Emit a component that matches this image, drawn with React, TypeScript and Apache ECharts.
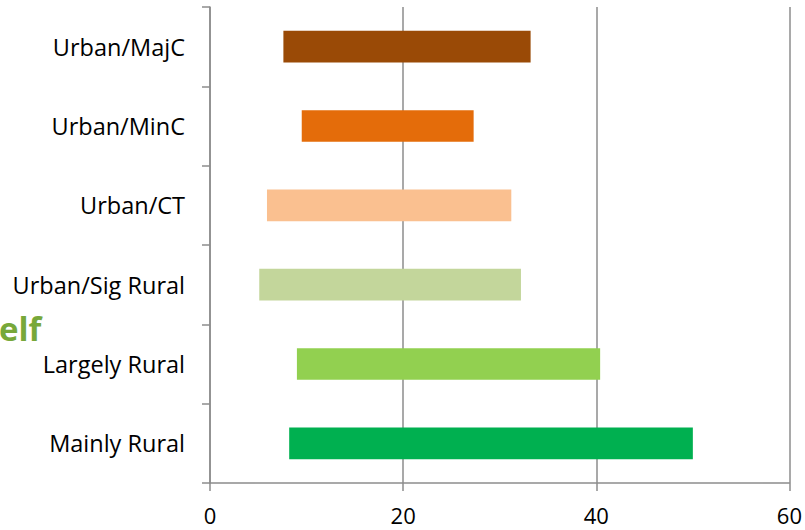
import React, { useEffect, useRef } from "react";
import * as echarts from "echarts";

// Categories listed top to bottom
const categories = [
  "Urban/MajC",
  "Urban/MinC",
  "Urban/CT",
  "Urban/Sig Rural",
  "Largely Rural",
  "Mainly Rural",
];
// Start and end of each range
const rangeStart = [7.6, 9.5, 5.9, 5.1, 9.0, 8.2];
const rangeEnd = [33.2, 27.3, 31.2, 32.2, 40.4, 50.0];
const barColors = ["#9A4A06", "#E46C0A", "#FAC090", "#C3D69B", "#92D050", "#00B050"];
const xTicks = { min: 0, max: 60, interval: 20 };

const FONT = "'Open Sans', 'Noto Sans', sans-serif";
const GRAY = "#8c8c8c";

export default function App() {
  const ref = useRef<HTMLDivElement>(null);

  useEffect(() => {
    if (!ref.current) return;
    const chart = echarts.init(ref.current, null, { renderer: "svg" });
    chart.setOption({
      animation: false,
      backgroundColor: "#ffffff",
      grid: { left: 210, right: 15, top: 7, bottom: 47, containLabel: false },
      xAxis: {
        type: "value",
        min: xTicks.min,
        max: xTicks.max,
        interval: xTicks.interval,
        axisLine: { show: true, lineStyle: { color: GRAY, width: 1.5 } },
        axisTick: { show: true, length: 8, lineStyle: { color: GRAY, width: 1.5 } },
        splitLine: { show: true, lineStyle: { color: GRAY, width: 1.5 } },
        axisLabel: { color: "#000", fontSize: 22, fontFamily: FONT, margin: 21 },
      },
      yAxis: {
        type: "category",
        inverse: true,
        data: categories,
        axisLine: { show: true, lineStyle: { color: GRAY, width: 1.5 } },
        axisTick: { show: true, length: 8, lineStyle: { color: GRAY, width: 1.5 } },
        axisLabel: { color: "#000", fontSize: 23.5, fontFamily: FONT, margin: 25 },
      },
      series: [
        {
          type: "bar",
          stack: "range",
          silent: true,
          itemStyle: { color: "transparent" },
          data: rangeStart,
          barWidth: "40%",
        },
        {
          type: "bar",
          stack: "range",
          barWidth: "40%",
          data: rangeEnd.map((e, i) => ({
            value: +(e - rangeStart[i]).toFixed(2),
            itemStyle: { color: barColors[i] },
          })),
        },
      ],
      graphic: [
        {
          type: "text",
          x: -1,
          y: 345,
          style: {
            text: "elf",
            fill: "#77A83A",
            font: `bold 33px ${FONT}`,
            textAlign: "left",
            textVerticalAlign: "bottom",
          },
        },
      ],
    });
    return () => chart.dispose();
  }, []);

  return (
    <div
      ref={ref}
      style={{ position: "fixed", left: 0, top: 0, width: 805, height: 530 }}
    />
  );
}
